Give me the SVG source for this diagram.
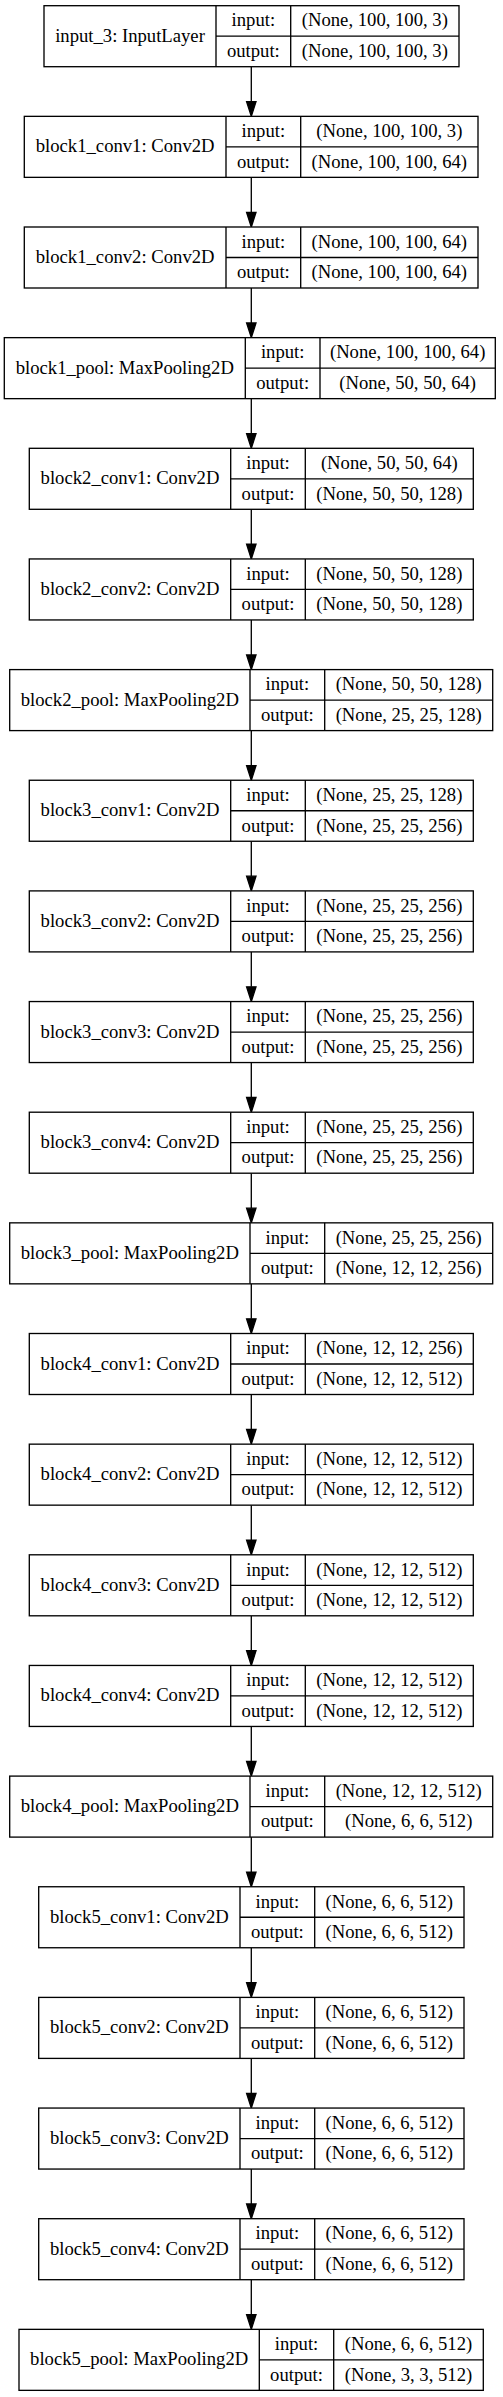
<svg xmlns="http://www.w3.org/2000/svg" width="503" height="2397" viewBox="0 0 503 2397">
<style>
rect{fill:#fff;stroke:#000;stroke-width:1.33}
.d{fill:none;stroke:#000;stroke-width:1.33}
text{font-family:"Liberation Serif","Times New Roman",serif;font-size:18.67px;text-anchor:middle;fill:#000}
.e{stroke:#000;stroke-width:1.33;fill:none}
.h{fill:#000;stroke:#000;stroke-width:1.33}
</style>
<rect x="0" y="0" width="503" height="2397" style="fill:#fff;stroke:none"/>
<g id="connectors">
<line class="e" x1="251.3" y1="66.7" x2="251.3" y2="101.65"/><polygon class="h" points="246.6,101.65 256,101.65 251.3,116.35"/>
<line class="e" x1="251.3" y1="177.35" x2="251.3" y2="212.3"/><polygon class="h" points="246.6,212.3 256,212.3 251.3,227"/>
<line class="e" x1="251.3" y1="288" x2="251.3" y2="322.95"/><polygon class="h" points="246.6,322.95 256,322.95 251.3,337.65"/>
<line class="e" x1="251.3" y1="398.65" x2="251.3" y2="433.6"/><polygon class="h" points="246.6,433.6 256,433.6 251.3,448.3"/>
<line class="e" x1="251.3" y1="509.3" x2="251.3" y2="544.25"/><polygon class="h" points="246.6,544.25 256,544.25 251.3,558.95"/>
<line class="e" x1="251.3" y1="619.95" x2="251.3" y2="654.9"/><polygon class="h" points="246.6,654.9 256,654.9 251.3,669.6"/>
<line class="e" x1="251.3" y1="730.6" x2="251.3" y2="765.55"/><polygon class="h" points="246.6,765.55 256,765.55 251.3,780.25"/>
<line class="e" x1="251.3" y1="841.25" x2="251.3" y2="876.2"/><polygon class="h" points="246.6,876.2 256,876.2 251.3,890.9"/>
<line class="e" x1="251.3" y1="951.9" x2="251.3" y2="986.85"/><polygon class="h" points="246.6,986.85 256,986.85 251.3,1001.55"/>
<line class="e" x1="251.3" y1="1062.55" x2="251.3" y2="1097.5"/><polygon class="h" points="246.6,1097.5 256,1097.5 251.3,1112.2"/>
<line class="e" x1="251.3" y1="1173.2" x2="251.3" y2="1208.15"/><polygon class="h" points="246.6,1208.15 256,1208.15 251.3,1222.85"/>
<line class="e" x1="251.3" y1="1283.85" x2="251.3" y2="1318.8"/><polygon class="h" points="246.6,1318.8 256,1318.8 251.3,1333.5"/>
<line class="e" x1="251.3" y1="1394.5" x2="251.3" y2="1429.45"/><polygon class="h" points="246.6,1429.45 256,1429.45 251.3,1444.15"/>
<line class="e" x1="251.3" y1="1505.15" x2="251.3" y2="1540.1"/><polygon class="h" points="246.6,1540.1 256,1540.1 251.3,1554.8"/>
<line class="e" x1="251.3" y1="1615.8" x2="251.3" y2="1650.75"/><polygon class="h" points="246.6,1650.75 256,1650.75 251.3,1665.45"/>
<line class="e" x1="251.3" y1="1726.45" x2="251.3" y2="1761.4"/><polygon class="h" points="246.6,1761.4 256,1761.4 251.3,1776.1"/>
<line class="e" x1="251.3" y1="1837.1" x2="251.3" y2="1872.05"/><polygon class="h" points="246.6,1872.05 256,1872.05 251.3,1886.75"/>
<line class="e" x1="251.3" y1="1947.75" x2="251.3" y2="1982.7"/><polygon class="h" points="246.6,1982.7 256,1982.7 251.3,1997.4"/>
<line class="e" x1="251.3" y1="2058.4" x2="251.3" y2="2093.35"/><polygon class="h" points="246.6,2093.35 256,2093.35 251.3,2108.05"/>
<line class="e" x1="251.3" y1="2169.05" x2="251.3" y2="2204"/><polygon class="h" points="246.6,2204 256,2204 251.3,2218.7"/>
<line class="e" x1="251.3" y1="2279.7" x2="251.3" y2="2314.65"/><polygon class="h" points="246.6,2314.65 256,2314.65 251.3,2329.35"/>
</g>

<g id="n0" transform="translate(0,5.7)">
<rect x="44" y="0" width="415" height="61"/>
<path class="d" d="M216,0V61M290.7,0V61M216,30.5H459"/>
<text x="130" y="36">input_3: InputLayer</text>
<text x="253.35" y="20.75">input:</text><text x="253.35" y="51.25">output:</text>
<text x="374.85" y="20.75">(None, 100, 100, 3)</text><text x="374.85" y="51.25">(None, 100, 100, 3)</text>
</g>

<g id="n1" transform="translate(0,116.35)">
<rect x="24.3" y="0" width="453.7" height="61"/>
<path class="d" d="M226,0V61M300.7,0V61M226,30.5H478"/>
<text x="125.15" y="36">block1_conv1: Conv2D</text>
<text x="263.35" y="20.75">input:</text><text x="263.35" y="51.25">output:</text>
<text x="389.35" y="20.75">(None, 100, 100, 3)</text><text x="389.35" y="51.25">(None, 100, 100, 64)</text>
</g>

<g id="n2" transform="translate(0,227)">
<rect x="24.3" y="0" width="453.7" height="61"/>
<path class="d" d="M226,0V61M300.7,0V61M226,30.5H478"/>
<text x="125.15" y="36">block1_conv2: Conv2D</text>
<text x="263.35" y="20.75">input:</text><text x="263.35" y="51.25">output:</text>
<text x="389.35" y="20.75">(None, 100, 100, 64)</text><text x="389.35" y="51.25">(None, 100, 100, 64)</text>
</g>

<g id="n3" transform="translate(0,337.65)">
<rect x="4.3" y="0" width="491" height="61"/>
<path class="d" d="M245.3,0V61M320,0V61M245.3,30.5H495.3"/>
<text x="124.8" y="36">block1_pool: MaxPooling2D</text>
<text x="282.65" y="20.75">input:</text><text x="282.65" y="51.25">output:</text>
<text x="407.65" y="20.75">(None, 100, 100, 64)</text><text x="407.65" y="51.25">(None, 50, 50, 64)</text>
</g>

<g id="n4" transform="translate(0,448.3)">
<rect x="29.3" y="0" width="444" height="61"/>
<path class="d" d="M230.7,0V61M305.3,0V61M230.7,30.5H473.3"/>
<text x="130" y="36">block2_conv1: Conv2D</text>
<text x="268" y="20.75">input:</text><text x="268" y="51.25">output:</text>
<text x="389.3" y="20.75">(None, 50, 50, 64)</text><text x="389.3" y="51.25">(None, 50, 50, 128)</text>
</g>

<g id="n5" transform="translate(0,558.95)">
<rect x="29.3" y="0" width="444" height="61"/>
<path class="d" d="M230.7,0V61M305.3,0V61M230.7,30.5H473.3"/>
<text x="130" y="36">block2_conv2: Conv2D</text>
<text x="268" y="20.75">input:</text><text x="268" y="51.25">output:</text>
<text x="389.3" y="20.75">(None, 50, 50, 128)</text><text x="389.3" y="51.25">(None, 50, 50, 128)</text>
</g>

<g id="n6" transform="translate(0,669.6)">
<rect x="9.7" y="0" width="483" height="61"/>
<path class="d" d="M250,0V61M324.7,0V61M250,30.5H492.7"/>
<text x="129.85" y="36">block2_pool: MaxPooling2D</text>
<text x="287.35" y="20.75">input:</text><text x="287.35" y="51.25">output:</text>
<text x="408.7" y="20.75">(None, 50, 50, 128)</text><text x="408.7" y="51.25">(None, 25, 25, 128)</text>
</g>

<g id="n7" transform="translate(0,780.25)">
<rect x="29.3" y="0" width="444" height="61"/>
<path class="d" d="M230.7,0V61M305.3,0V61M230.7,30.5H473.3"/>
<text x="130" y="36">block3_conv1: Conv2D</text>
<text x="268" y="20.75">input:</text><text x="268" y="51.25">output:</text>
<text x="389.3" y="20.75">(None, 25, 25, 128)</text><text x="389.3" y="51.25">(None, 25, 25, 256)</text>
</g>

<g id="n8" transform="translate(0,890.9)">
<rect x="29.3" y="0" width="444" height="61"/>
<path class="d" d="M230.7,0V61M305.3,0V61M230.7,30.5H473.3"/>
<text x="130" y="36">block3_conv2: Conv2D</text>
<text x="268" y="20.75">input:</text><text x="268" y="51.25">output:</text>
<text x="389.3" y="20.75">(None, 25, 25, 256)</text><text x="389.3" y="51.25">(None, 25, 25, 256)</text>
</g>

<g id="n9" transform="translate(0,1001.55)">
<rect x="29.3" y="0" width="444" height="61"/>
<path class="d" d="M230.7,0V61M305.3,0V61M230.7,30.5H473.3"/>
<text x="130" y="36">block3_conv3: Conv2D</text>
<text x="268" y="20.75">input:</text><text x="268" y="51.25">output:</text>
<text x="389.3" y="20.75">(None, 25, 25, 256)</text><text x="389.3" y="51.25">(None, 25, 25, 256)</text>
</g>

<g id="n10" transform="translate(0,1112.2)">
<rect x="29.3" y="0" width="444" height="61"/>
<path class="d" d="M230.7,0V61M305.3,0V61M230.7,30.5H473.3"/>
<text x="130" y="36">block3_conv4: Conv2D</text>
<text x="268" y="20.75">input:</text><text x="268" y="51.25">output:</text>
<text x="389.3" y="20.75">(None, 25, 25, 256)</text><text x="389.3" y="51.25">(None, 25, 25, 256)</text>
</g>

<g id="n11" transform="translate(0,1222.85)">
<rect x="9.7" y="0" width="483" height="61"/>
<path class="d" d="M250,0V61M324.7,0V61M250,30.5H492.7"/>
<text x="129.85" y="36">block3_pool: MaxPooling2D</text>
<text x="287.35" y="20.75">input:</text><text x="287.35" y="51.25">output:</text>
<text x="408.7" y="20.75">(None, 25, 25, 256)</text><text x="408.7" y="51.25">(None, 12, 12, 256)</text>
</g>

<g id="n12" transform="translate(0,1333.5)">
<rect x="29.3" y="0" width="444" height="61"/>
<path class="d" d="M230.7,0V61M305.3,0V61M230.7,30.5H473.3"/>
<text x="130" y="36">block4_conv1: Conv2D</text>
<text x="268" y="20.75">input:</text><text x="268" y="51.25">output:</text>
<text x="389.3" y="20.75">(None, 12, 12, 256)</text><text x="389.3" y="51.25">(None, 12, 12, 512)</text>
</g>

<g id="n13" transform="translate(0,1444.15)">
<rect x="29.3" y="0" width="444" height="61"/>
<path class="d" d="M230.7,0V61M305.3,0V61M230.7,30.5H473.3"/>
<text x="130" y="36">block4_conv2: Conv2D</text>
<text x="268" y="20.75">input:</text><text x="268" y="51.25">output:</text>
<text x="389.3" y="20.75">(None, 12, 12, 512)</text><text x="389.3" y="51.25">(None, 12, 12, 512)</text>
</g>

<g id="n14" transform="translate(0,1554.8)">
<rect x="29.3" y="0" width="444" height="61"/>
<path class="d" d="M230.7,0V61M305.3,0V61M230.7,30.5H473.3"/>
<text x="130" y="36">block4_conv3: Conv2D</text>
<text x="268" y="20.75">input:</text><text x="268" y="51.25">output:</text>
<text x="389.3" y="20.75">(None, 12, 12, 512)</text><text x="389.3" y="51.25">(None, 12, 12, 512)</text>
</g>

<g id="n15" transform="translate(0,1665.45)">
<rect x="29.3" y="0" width="444" height="61"/>
<path class="d" d="M230.7,0V61M305.3,0V61M230.7,30.5H473.3"/>
<text x="130" y="36">block4_conv4: Conv2D</text>
<text x="268" y="20.75">input:</text><text x="268" y="51.25">output:</text>
<text x="389.3" y="20.75">(None, 12, 12, 512)</text><text x="389.3" y="51.25">(None, 12, 12, 512)</text>
</g>

<g id="n16" transform="translate(0,1776.1)">
<rect x="9.7" y="0" width="483" height="61"/>
<path class="d" d="M250,0V61M324.7,0V61M250,30.5H492.7"/>
<text x="129.85" y="36">block4_pool: MaxPooling2D</text>
<text x="287.35" y="20.75">input:</text><text x="287.35" y="51.25">output:</text>
<text x="408.7" y="20.75">(None, 12, 12, 512)</text><text x="408.7" y="51.25">(None, 6, 6, 512)</text>
</g>

<g id="n17" transform="translate(0,1886.75)">
<rect x="38.7" y="0" width="425.3" height="61"/>
<path class="d" d="M240,0V61M314.7,0V61M240,30.5H464"/>
<text x="139.35" y="36">block5_conv1: Conv2D</text>
<text x="277.35" y="20.75">input:</text><text x="277.35" y="51.25">output:</text>
<text x="389.35" y="20.75">(None, 6, 6, 512)</text><text x="389.35" y="51.25">(None, 6, 6, 512)</text>
</g>

<g id="n18" transform="translate(0,1997.4)">
<rect x="38.7" y="0" width="425.3" height="61"/>
<path class="d" d="M240,0V61M314.7,0V61M240,30.5H464"/>
<text x="139.35" y="36">block5_conv2: Conv2D</text>
<text x="277.35" y="20.75">input:</text><text x="277.35" y="51.25">output:</text>
<text x="389.35" y="20.75">(None, 6, 6, 512)</text><text x="389.35" y="51.25">(None, 6, 6, 512)</text>
</g>

<g id="n19" transform="translate(0,2108.05)">
<rect x="38.7" y="0" width="425.3" height="61"/>
<path class="d" d="M240,0V61M314.7,0V61M240,30.5H464"/>
<text x="139.35" y="36">block5_conv3: Conv2D</text>
<text x="277.35" y="20.75">input:</text><text x="277.35" y="51.25">output:</text>
<text x="389.35" y="20.75">(None, 6, 6, 512)</text><text x="389.35" y="51.25">(None, 6, 6, 512)</text>
</g>

<g id="n20" transform="translate(0,2218.7)">
<rect x="38.7" y="0" width="425.3" height="61"/>
<path class="d" d="M240,0V61M314.7,0V61M240,30.5H464"/>
<text x="139.35" y="36">block5_conv4: Conv2D</text>
<text x="277.35" y="20.75">input:</text><text x="277.35" y="51.25">output:</text>
<text x="389.35" y="20.75">(None, 6, 6, 512)</text><text x="389.35" y="51.25">(None, 6, 6, 512)</text>
</g>

<g id="n21" transform="translate(0,2329.35)">
<rect x="19" y="0" width="464.3" height="61"/>
<path class="d" d="M259.3,0V61M333.7,0V61M259.3,30.5H483.3"/>
<text x="139.15" y="36">block5_pool: MaxPooling2D</text>
<text x="296.5" y="20.75">input:</text><text x="296.5" y="51.25">output:</text>
<text x="408.5" y="20.75">(None, 6, 6, 512)</text><text x="408.5" y="51.25">(None, 3, 3, 512)</text>
</g>
</svg>
